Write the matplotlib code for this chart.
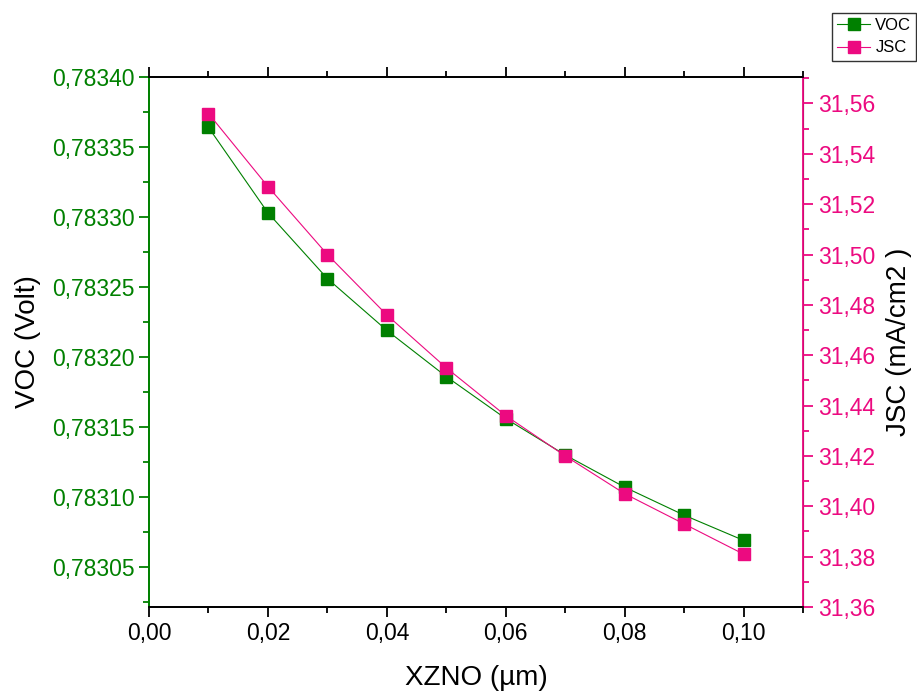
import matplotlib
matplotlib.use("Agg")
import matplotlib.pyplot as plt
from matplotlib.ticker import MultipleLocator, FuncFormatter

plt.rcParams['font.family'] = ['Liberation Sans', 'DejaVu Sans']

xzno = [0.01, 0.02, 0.03, 0.04, 0.05, 0.06, 0.07, 0.08, 0.09, 0.10]
voc = [0.783364, 0.783303, 0.783256, 0.783219, 0.783186, 0.783156,
       0.783130, 0.783107, 0.783087, 0.783069]
jsc = [31.556, 31.527, 31.500, 31.476, 31.455, 31.436,
       31.420, 31.405, 31.393, 31.381]

green = '#008000'
pink = '#EC0A80'


def comma(decimals):
    return FuncFormatter(lambda v, p: f"{v:.{decimals}f}".replace('.', ','))


fig = plt.figure(figsize=(9.17, 6.93), dpi=100)
ax = fig.add_axes([0.1625, 0.1241, 0.7132, 0.7648])
ax2 = ax.twinx()

l1, = ax.plot(xzno, voc, '-s', color=green, lw=0.8, ms=8.5, label='VOC', zorder=3)
l2, = ax2.plot(xzno, jsc, '-s', color=pink, lw=0.8, ms=8.5, label='JSC', zorder=3)

ax.set_xlim(0, 0.11)
ax.set_ylim(0.7830214, 0.78340)
ax2.set_ylim(31.36, 31.5705)

ax.xaxis.set_major_locator(MultipleLocator(0.02))
ax.xaxis.set_minor_locator(MultipleLocator(0.01))
ax.yaxis.set_major_locator(MultipleLocator(0.00005))
ax.yaxis.set_minor_locator(MultipleLocator(0.000025))
ax2.yaxis.set_major_locator(MultipleLocator(0.02))
ax2.yaxis.set_minor_locator(MultipleLocator(0.01))

ax.xaxis.set_major_formatter(comma(2))
ax.yaxis.set_major_formatter(comma(5))
ax2.yaxis.set_major_formatter(comma(2))

fs_tick = 16.5
ax.tick_params(axis='x', which='both', direction='out', top=True, labelsize=fs_tick, colors='black', width=1.3)
ax.tick_params(axis='x', which='major', length=7)
ax.tick_params(axis='x', which='minor', length=4)
ax.tick_params(axis='y', which='both', direction='out', colors=green, labelsize=fs_tick, width=1.3)
ax.tick_params(axis='y', which='major', length=7)
ax.tick_params(axis='y', which='minor', length=4)
ax2.tick_params(axis='y', which='both', direction='out', colors=pink, labelsize=fs_tick, width=1.3)
ax2.tick_params(axis='y', which='major', length=7)
ax2.tick_params(axis='y', which='minor', length=4)

for s in ['top', 'bottom']:
    ax.spines[s].set_linewidth(1.3)
    ax2.spines[s].set_linewidth(1.3)
ax.spines['left'].set_color(green)
ax.spines['left'].set_linewidth(1.3)
ax2.spines['left'].set_color(green)
ax2.spines['left'].set_linewidth(1.3)
ax2.spines['right'].set_color(pink)
ax2.spines['right'].set_linewidth(1.3)

ax.set_xlabel('XZNO (µm)', fontsize=20, labelpad=15)
ax.set_ylabel('VOC (Volt)', fontsize=20, labelpad=8)
ax2.set_ylabel('JSC (mA/cm2 )', fontsize=20, labelpad=8)

fig.legend([l1, l2], ['VOC', 'JSC'], loc='upper left', bbox_to_anchor=(832 / 917, 1 - 13 / 693),
           fontsize=12, frameon=True, fancybox=False, edgecolor='black',
           handlelength=2.0, borderpad=0.3, labelspacing=0.45, handletextpad=0.3,
           markerscale=1.0, borderaxespad=0.0)

fig.savefig('out.png', dpi=100)
